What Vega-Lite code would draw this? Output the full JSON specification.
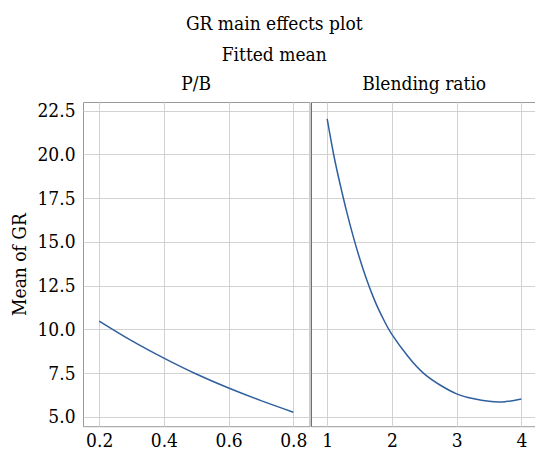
{
  "$schema": "https://vega.github.io/schema/vega-lite/v6.json",
  "padding": {"left": 10, "top": 15, "right": 0, "bottom": 0},
  "title": {
    "text": "GR main effects plot",
    "subtitle": "Fitted mean",
    "anchor": "middle",
    "font": "DejaVu Serif Condensed",
    "fontSize": 19,
    "fontWeight": "normal",
    "color": "black",
    "subtitleFont": "DejaVu Serif Condensed",
    "subtitleFontSize": 19,
    "subtitleColor": "black",
    "subtitlePadding": 12,
    "offset": 9
  },
  "spacing": 0,
  "config": {
    "view": {"stroke": "#999999"},
    "axis": {
      "labelFont": "DejaVu Serif Condensed",
      "labelFontSize": 19,
      "labelColor": "black",
      "labelFlush": false,
      "labelOverlap": false,
      "titleFont": "DejaVu Serif Condensed",
      "titleFontSize": 19,
      "titleFontWeight": "normal",
      "titleColor": "black",
      "gridColor": "#d2d2d2",
      "ticks": false,
      "tickSize": 0,
      "domain": false
    },
    "title": {"font": "DejaVu Serif Condensed", "fontSize": 19, "fontWeight": "normal", "color": "black", "offset": 8}
  },
  "datasets": {
    "pb": [
      {"pb": 0.2, "gr": 10.48},
      {"pb": 0.3, "gr": 9.36},
      {"pb": 0.4, "gr": 8.36},
      {"pb": 0.5, "gr": 7.45},
      {"pb": 0.6, "gr": 6.65},
      {"pb": 0.7, "gr": 5.93},
      {"pb": 0.8, "gr": 5.27}
    ],
    "br": [
      {"br": 1.0, "gr": 22.03},
      {"br": 1.1, "gr": 20.0},
      {"br": 1.2, "gr": 18.3},
      {"br": 1.3, "gr": 16.75},
      {"br": 1.4, "gr": 15.35},
      {"br": 1.5, "gr": 14.08},
      {"br": 1.6, "gr": 12.95},
      {"br": 1.7, "gr": 11.96},
      {"br": 1.8, "gr": 11.1},
      {"br": 1.9, "gr": 10.36},
      {"br": 2.0, "gr": 9.72},
      {"br": 2.25, "gr": 8.45},
      {"br": 2.5, "gr": 7.46},
      {"br": 2.75, "gr": 6.81},
      {"br": 3.0, "gr": 6.32},
      {"br": 3.25, "gr": 6.05},
      {"br": 3.5, "gr": 5.89},
      {"br": 3.75, "gr": 5.87},
      {"br": 4.0, "gr": 6.02}
    ]
  },
  "hconcat": [
    {
      "width": 226.5,
      "height": 324.2,
      "title": "P/B",
      "data": {"name": "pb"},
      "mark": {"type": "line", "interpolate": "natural", "color": "#2f5f9f", "strokeWidth": 1.5},
      "encoding": {
        "x": {
          "field": "pb",
          "type": "quantitative",
          "scale": {"domain": [0.15, 0.85], "nice": false, "zero": false},
          "axis": {"values": [0.2, 0.4, 0.6, 0.8], "format": ".1f", "title": null, "labelPadding": 5}
        },
        "y": {
          "field": "gr",
          "type": "quantitative",
          "scale": {"domain": [4.47, 23], "nice": false, "zero": false},
          "axis": {
            "values": [5, 7.5, 10, 12.5, 15, 17.5, 20, 22.5],
            "format": ".1f",
            "title": "Mean of GR",
            "labelPadding": 8,
            "titlePadding": 7
          }
        }
      }
    },
    {
      "width": 226.5,
      "height": 324.2,
      "title": "Blending ratio",
      "data": {"name": "br"},
      "mark": {"type": "line", "interpolate": "natural", "color": "#2f5f9f", "strokeWidth": 1.5},
      "encoding": {
        "x": {
          "field": "br",
          "type": "quantitative",
          "scale": {"domain": [0.75, 4.25], "nice": false, "zero": false},
          "axis": {"values": [1, 2, 3, 4], "format": "d", "title": null, "labelPadding": 5}
        },
        "y": {
          "field": "gr",
          "type": "quantitative",
          "scale": {"domain": [4.47, 23], "nice": false, "zero": false},
          "axis": {
            "values": [5, 7.5, 10, 12.5, 15, 17.5, 20, 22.5],
            "labels": false,
            "title": null,
            "domain": true,
            "domainColor": "#6e6e6e"
          }
        }
      }
    }
  ]
}
